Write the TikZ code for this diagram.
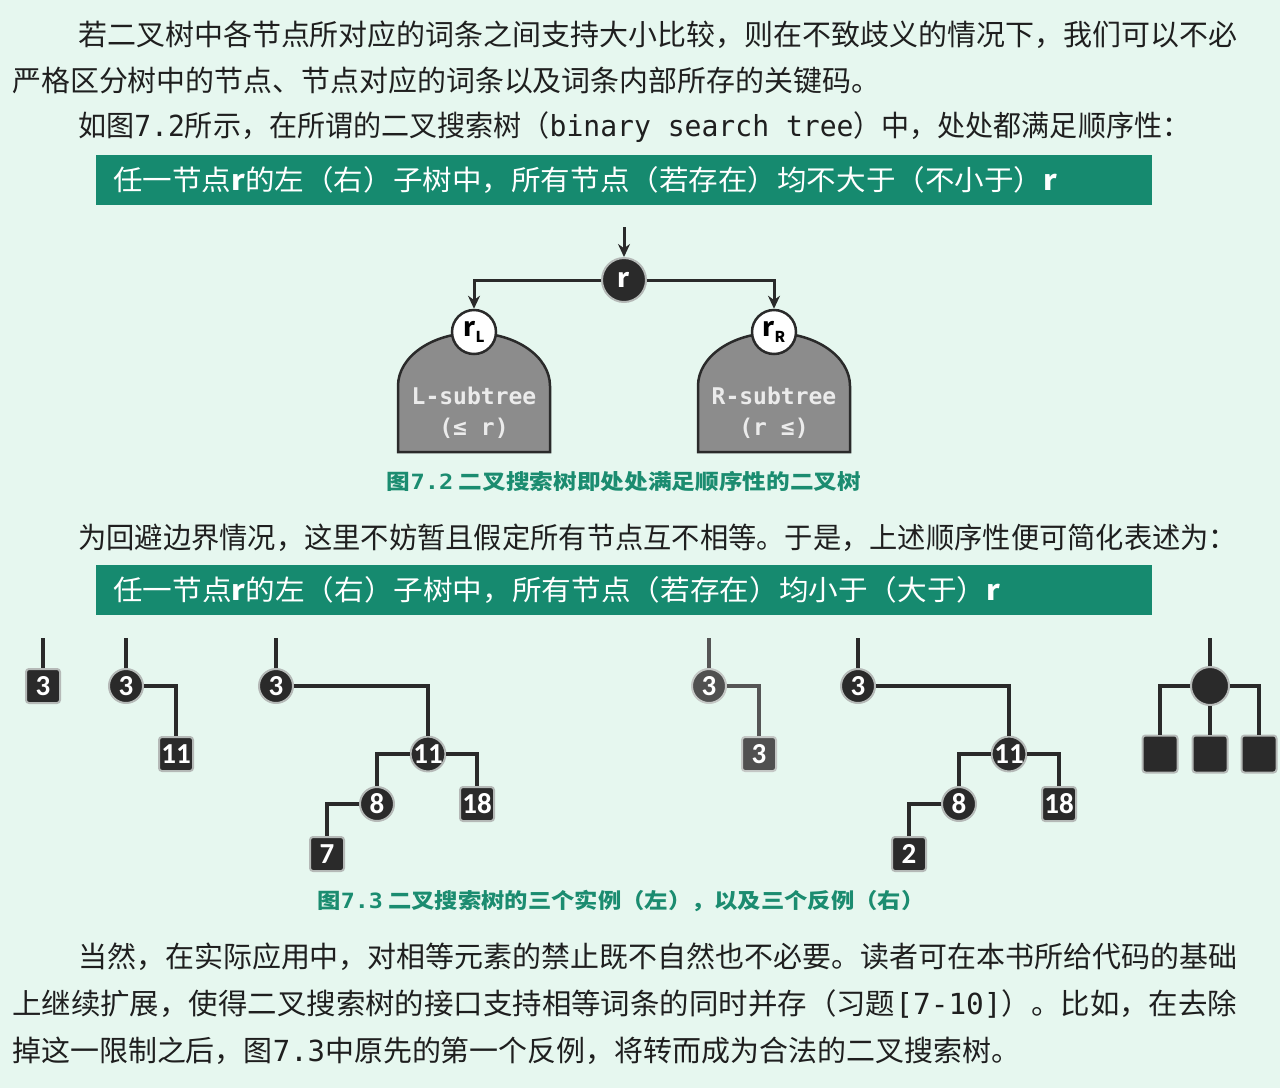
\documentclass[tikz,border=0pt]{standalone}
\usepackage{fontspec}
\usepackage{graphicx}
\setmainfont{Noto Sans CJK SC}
\setmonofont{DejaVu Sans Mono}
\newfontfamily\lblfont{Carlito}
\usetikzlibrary{arrows.meta}
\definecolor{bgmint}{HTML}{E6F7EF}
\definecolor{bannerteal}{HTML}{168A6F}
\definecolor{capteal}{HTML}{1B8C70}
\definecolor{ink}{HTML}{2A2A2A}
\definecolor{halo}{HTML}{B5B9B7}
\definecolor{subgray}{HTML}{8C8C8C}
\newcommand\fitw[2]{\resizebox{#1pt}{\height}{#2}}
\tikzset{bodyline/.style={anchor=west, inner sep=0pt, text=black!88, font=\fontsize{29}{29}\selectfont}}
\tikzset{banner/.style={rectangle, fill=bannerteal, minimum width=1056pt, minimum height=50pt, inner sep=0pt}}
\tikzset{bantext/.style={anchor=west, inner sep=0pt, text=white, font=\fontsize{28}{28}\selectfont}}
\tikzset{figcap/.style={inner sep=0pt, text=capteal, font=\fontsize{21}{21}\selectfont\bfseries}}
\tikzset{inner/.style={circle, fill=ink, draw=halo, line width=2pt, minimum size=34pt, inner sep=0pt, text=white, font=\lblfont\bfseries\fontsize{29}{29}\selectfont}}
\tikzset{leaf/.style={rectangle, rounded corners=3pt, fill=ink, draw=halo, line width=2pt, minimum size=34pt, inner sep=0pt, text=white, font=\lblfont\bfseries\fontsize{29}{29}\selectfont}}
\tikzset{edge/.style={draw=ink, line width=4pt}}
\tikzset{dim/.style={fill=ink!82, draw=halo!80}}
\tikzset{root/.style={circle, fill=ink, draw=halo, line width=2pt, minimum size=44pt, inner sep=0pt, text=white, font=\bfseries\fontsize{26}{26}\selectfont}}
\tikzset{sub/.style={circle, fill=white, draw=ink, line width=2.5pt, minimum size=44pt, inner sep=0pt, font=\bfseries\fontsize{26}{26}\selectfont}}
\tikzset{dome/.style={fill=subgray, draw=ink, line width=2.5pt}}
\tikzset{domtext/.style={inner sep=0pt, text=white!92!black, font=\ttfamily\bfseries\fontsize{23}{23}\selectfont}}
\tikzset{arr/.style={draw=ink, line width=3pt, -{Stealth[length=13pt,width=12pt]}}}

\begin{document}
\begin{tikzpicture}[x=1pt,y=-1pt]
\fill[bgmint] (0,0) rectangle (1280,1088);
\useasboundingbox (0,0) rectangle (1280,1088);

\node[bodyline] (p1) at (78,35) {\fitw{1159}{若二叉树中各节点所对应的词条之间支持大小比较，则在不致歧义的情况下，我们可以不必}};
\node[bodyline] (p2) at (12,80) {\fitw{868}{严格区分树中的节点、节点对应的词条以及词条内部所存的关键码。}};
\node[bodyline] (p3) at (78,127) {\fitw{1112}{如图\texttt{7.2}所示，在所谓的二叉搜索树（\texttt{binary search tree}）中，处处都满足顺序性：}};
\node[banner] (ban1) at (624,180) {};
\node[bantext] (ban1t) at (113,180) {\fitw{944}{任一节点\textbf{r}的左（右）子树中，所有节点（若存在）均不大于（不小于）\textbf{r}}};

\draw[dome] (398,452) -- (398,386) arc[start angle=180, end angle=0, x radius=76pt, y radius=53pt] -- (550,452) -- cycle;
\draw[dome] (698,452) -- (698,386) arc[start angle=180, end angle=0, x radius=76pt, y radius=53pt] -- (850,452) -- cycle;
\coordinate (rin) at (624,227);
\node[root] (r) at (624,280) {r};
\node[sub] (rl) at (474,332) {r\raisebox{-6pt}{\fontsize{15}{15}\selectfont L}};
\node[sub] (rr) at (774,332) {r\raisebox{-6pt}{\fontsize{15}{15}\selectfont R}};
\draw[arr] (rin) -- (r);
\draw[arr] (r) -| (rl);
\draw[arr] (r) -| (rr);
\node[domtext] (lsub) at (474,396) {L-subtree};
\node[domtext] (lle) at (474,428) {(≤ r)};
\node[domtext] (rsub) at (774,396) {R-subtree};
\node[domtext] (rle) at (774,428) {(r ≤)};
\node[figcap] (cap2) at (624,481) {\fitw{474}{图\texttt{7.2}\ 二叉搜索树即处处满足顺序性的二叉树}};

\node[bodyline] (p4) at (78,538) {\fitw{1159}{为回避边界情况，这里不妨暂且假定所有节点互不相等。于是，上述顺序性便可简化表述为：}};
\node[banner] (ban2) at (624,590) {};
\node[bantext] (ban2t) at (113,590) {\fitw{887}{任一节点\textbf{r}的左（右）子树中，所有节点（若存在）均小于（大于）\textbf{r}}};

\foreach \n/\x in {a/43,b/126,c/276,d/709,e/858,f/1210} {
  \coordinate (top-\n) at (\x,638);
}
\node[leaf] (a3) at (43,686) {3};

\node[inner] (b3) at (126,686) {3};
\node[leaf] (b11) at (176,754) {11};

\node[inner] (c3) at (276,686) {3};
\node[inner] (c11) at (428,754) {11};
\node[inner] (c8) at (377,804) {8};
\node[leaf] (c18) at (477,804) {18};
\node[leaf] (c7) at (327,854) {7};

\node[inner, dim] (d3) at (709,686) {3};
\node[leaf, dim] (d3r) at (759,754) {3};

\node[inner] (e3) at (858,686) {3};
\node[inner] (e11) at (1009,754) {11};
\node[inner] (e8) at (959,804) {8};
\node[leaf] (e18) at (1059,804) {18};
\node[leaf] (e2) at (909,854) {2};

\node[inner, minimum size=38pt] (f0) at (1210,686) {};
\node[leaf, minimum width=35pt, minimum height=37pt] (f1) at (1160,754) {};
\node[leaf, minimum width=35pt, minimum height=37pt] (f2) at (1210,754) {};
\node[leaf, minimum width=35pt, minimum height=37pt] (f3) at (1259,754) {};

\draw[edge] (top-a) -- (a3);
\draw[edge] (top-b) -- (b3);
\draw[edge] (b3) -| (b11);
\draw[edge] (top-c) -- (c3);
\draw[edge] (c3) -| (c11);
\draw[edge] (c11) -| (c8);
\draw[edge] (c11) -| (c18);
\draw[edge] (c8) -| (c7);
\draw[edge, draw=ink!80] (top-d) -- (d3);
\draw[edge, draw=ink!80] (d3) -| (d3r);
\draw[edge] (top-e) -- (e3);
\draw[edge] (e3) -| (e11);
\draw[edge] (e11) -| (e8);
\draw[edge] (e11) -| (e18);
\draw[edge] (e8) -| (e2);
\draw[edge] (top-f) -- (f0);
\draw[edge] (f0) -| (f1);
\draw[edge] (f0) -- (f2);
\draw[edge] (f0) -| (f3);
\node[figcap] (cap3) at (621,901) {\fitw{607}{图\texttt{7.3}\ 二叉搜索树的三个实例（左），以及三个反例（右）}};

\node[bodyline] (q1) at (78,957) {\fitw{1159}{当然，在实际应用中，对相等元素的禁止既不自然也不必要。读者可在本书所给代码的基础}};
\node[bodyline] (q2) at (12,1004) {\fitw{1225}{上继续扩展，使得二叉搜索树的接口支持相等词条的同时并存（习题\texttt{[7-10]}）。比如，在去除}};
\node[bodyline] (q3) at (12,1051) {\fitw{1008}{掉这一限制之后，图\texttt{7.3}中原先的第一个反例，将转而成为合法的二叉搜索树。}};
\end{tikzpicture}
\end{document}
